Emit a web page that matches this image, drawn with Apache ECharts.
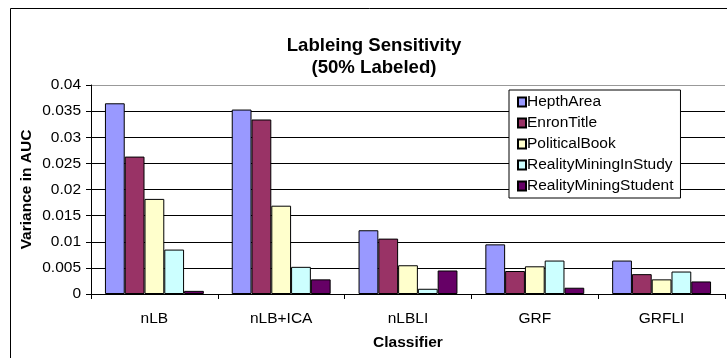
<!DOCTYPE html>
<html>
<head>
<meta charset="utf-8">
<script src="https://cdn.jsdelivr.net/npm/echarts@6/dist/echarts.min.js"></script>
<style>
html,body{margin:0;padding:0;background:#fff;}
#chart{width:727px;height:358px;}
</style>
</head>
<body>
<div id="chart"></div>
<script>
var categories = ['nLB', 'nLB+ICA', 'nLBLI', 'GRF', 'GRFLI'];
var seriesNames = ['HepthArea', 'EnronTitle', 'PoliticalBook', 'RealityMiningInStudy', 'RealityMiningStudent'];
var hepthArea = [0.0365, 0.0353, 0.0122, 0.0095, 0.0064];
var enronTitle = [0.0263, 0.0334, 0.0106, 0.0044, 0.0038];
var politicalBook = [0.0182, 0.0169, 0.0055, 0.0053, 0.0028];
var realityMiningInStudy = [0.0085, 0.0052, 0.0010, 0.0064, 0.0043];
var realityMiningStudent = [0.0006, 0.0028, 0.0045, 0.0012, 0.0024];
var seriesColors = ['#9999FF', '#993366', '#FFFFCC', '#CCFFFF', '#660066'];
var yTicks = [0, 0.005, 0.01, 0.015, 0.02, 0.025, 0.03, 0.035, 0.04];

var seriesData = [hepthArea, enronTitle, politicalBook, realityMiningInStudy, realityMiningStudent];
var font = 'Arial, "Liberation Sans", sans-serif';
var fs = 15.5;

var chart = echarts.init(document.getElementById('chart'), null, {renderer: 'canvas'});
chart.setOption({
  animation: false,
  backgroundColor: '#fff',
  textStyle: {fontFamily: font},
  title: {
    text: 'Lableing Sensitivity\n(50% Labeled)',
    left: 374,
    textAlign: 'center',
    top: 35,
    padding: 0,
    textStyle: {fontFamily: font, fontSize: 18.6, fontWeight: 'bold', color: '#000', lineHeight: 22}
  },
  legend: {
    orient: 'vertical',
    left: 509,
    top: 90,
    padding: [4, 7, 4, 8],
    itemGap: 5,
    itemWidth: 8,
    itemHeight: 9,
    borderColor: '#000',
    borderWidth: 1,
    backgroundColor: '#fff',
    icon: 'rect',
    data: seriesNames,
    textStyle: {fontFamily: font, fontSize: fs, color: '#000', lineHeight: 14, padding: [0, 0, 0, -4]}
  },
  grid: {left: 91, right: 2, top: 85, bottom: 64, containLabel: false},
  xAxis: {
    type: 'category',
    data: categories,
    name: 'Classifier',
    nameLocation: 'middle',
    nameGap: 41,
    nameMoveOverlap: false,
    nameTextStyle: {fontFamily: font, fontSize: fs, fontWeight: 'bold', color: '#000'},
    axisLine: {lineStyle: {color: '#000', width: 1}},
    axisTick: {show: true, length: 5, lineStyle: {color: '#000'}},
    axisLabel: {fontFamily: font, fontSize: fs, color: '#000', margin: 17},
    splitLine: {show: false}
  },
  yAxis: {
    type: 'value',
    min: 0,
    max: 0.04,
    interval: 0.005,
    name: 'Variance in AUC',
    nameLocation: 'middle',
    nameGap: 56,
    nameMoveOverlap: false,
    nameRotate: 90,
    nameTextStyle: {fontFamily: font, fontSize: fs, fontWeight: 'bold', color: '#000'},
    axisLine: {show: true, lineStyle: {color: '#000', width: 1}},
    axisTick: {show: true, length: 5, lineStyle: {color: '#000'}},
    axisLabel: {
      fontFamily: font, fontSize: fs, color: '#000', margin: 10,
      formatter: function (v) { return String(+v.toFixed(3)); }
    },
    splitLine: {show: true, lineStyle: {color: ['#888', '#000', '#000', '#000', '#000', '#000', '#000', '#000', '#999'], width: 1}}
  },
  series: seriesNames.map(function (name, i) {
    return {
      name: name,
      type: 'bar',
      data: seriesData[i],
      barGap: '0%',
      barCategoryGap: '22%',
      itemStyle: {color: seriesColors[i], borderColor: '#000', borderWidth: 1}
    };
  }),
  graphic: [{
    type: 'rect',
    shape: {x: 10.5, y: 8.5, width: 740, height: 360},
    style: {fill: 'none', stroke: '#000', lineWidth: 1},
    silent: true,
    z: 100
  }]
});
</script>
</body>
</html>
